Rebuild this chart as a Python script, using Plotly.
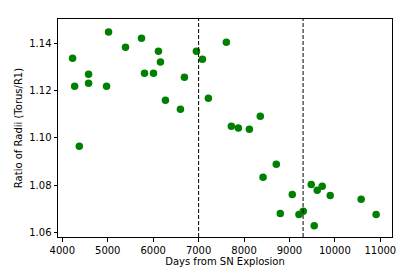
import plotly.graph_objects as go

days = [4226, 4271, 4578, 4578, 4974, 5018, 5391, 5743, 5809, 6007, 6116, 6160,
        6270, 6600, 6688, 6952, 7084, 7215, 7611, 7721, 4374, 7875, 8117, 8358,
        8710, 8418, 9479, 9611, 9721, 9062, 9897, 10578, 8798, 9209, 9303, 9545, 10908]
ratio = [1.1336, 1.1218, 1.1269, 1.1231, 1.1218, 1.1447, 1.1383, 1.1421, 1.1273, 1.1273,
         1.1366, 1.1320, 1.1159, 1.1121, 1.1256, 1.1366, 1.1332, 1.1167, 1.1404, 1.1049,
         1.0964, 1.1041, 1.1036, 1.1091, 1.0888, 1.0833, 1.0803, 1.0778, 1.0795, 1.0761,
         1.0756, 1.0740, 1.0680, 1.0676, 1.0690, 1.0629, 1.0676]
vlines = [7000, 9300]
x_ticks = [4000, 5000, 6000, 7000, 8000, 9000, 10000, 11000]
y_ticks = [1.06, 1.08, 1.10, 1.12, 1.14]

fig = go.Figure()
fig.add_trace(go.Scatter(x=days, y=ratio, mode="markers",
                         marker=dict(color="#008000", size=7.5, line=dict(width=0)),
                         showlegend=False))
for v in vlines:
    fig.add_shape(type="line", x0=v, x1=v, y0=0, y1=1, xref="x", yref="paper",
                  line=dict(color="black", width=1, dash="4px,2px"))

font = dict(family="DejaVu Sans", size=10, color="black")
# page body has an 8px default margin, so the figure is offset by 8px
fig.update_layout(
    width=408, height=269,
    margin=dict(l=50, r=24, t=11, b=40),
    paper_bgcolor="white", plot_bgcolor="white",
    font=font,
    xaxis=dict(range=[3905, 11257], tickvals=x_ticks, ticktext=[str(t) for t in x_ticks],
               showgrid=False, zeroline=False, showline=True, linecolor="black", linewidth=1,
               mirror=True, ticks="outside", ticklen=3.5, tickcolor="black", automargin=False,
               title=dict(text="Days from SN Explosion", font=font, standoff=3),
               tickfont=font),
    yaxis=dict(range=[1.0581, 1.1502], tickvals=y_ticks, ticktext=[f"{t:.2f}" for t in y_ticks],
               showgrid=False, zeroline=False, showline=True, linecolor="black", linewidth=1,
               mirror=True, ticks="outside", ticklen=3.5, tickcolor="black", automargin=False,
               title=dict(text="Ratio of Radii (Torus/R1)", font=font, standoff=4),
               tickfont=font),
)
fig.write_html("out.html")
